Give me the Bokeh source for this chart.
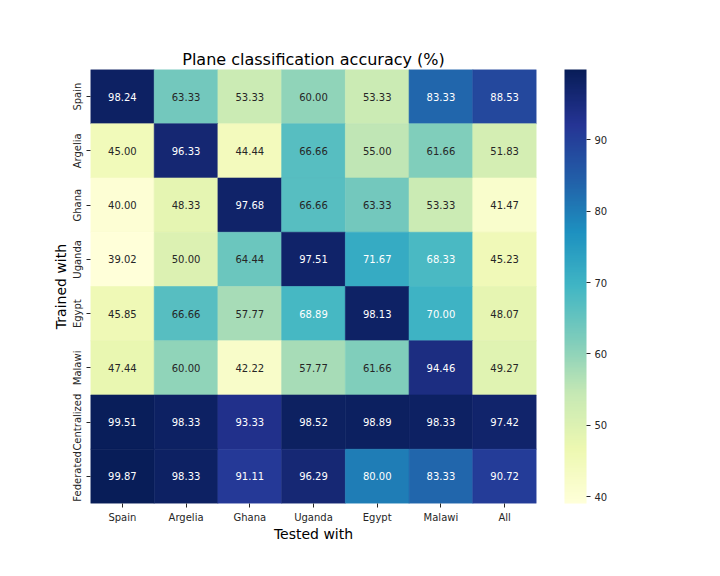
from bokeh.plotting import figure
from bokeh.models import ColumnDataSource, LinearColorMapper, ColorBar, FixedTicker, FactorRange
from bokeh.embed import file_html
from bokeh.resources import INLINE
from bokeh.core.properties import value

tested = ["Spain", "Argelia", "Ghana", "Uganda", "Egypt", "Malawi", "All"]
trained = ["Spain", "Argelia", "Ghana", "Uganda", "Egypt", "Malawi", "Centralized", "Federated"]

acc_spain = [98.24, 63.33, 53.33, 60.00, 53.33, 83.33, 88.53]
acc_argelia = [45.00, 96.33, 44.44, 66.66, 55.00, 61.66, 51.83]
acc_ghana = [40.00, 48.33, 97.68, 66.66, 63.33, 53.33, 41.47]
acc_uganda = [39.02, 50.00, 64.44, 97.51, 71.67, 68.33, 45.23]
acc_egypt = [45.85, 66.66, 57.77, 68.89, 98.13, 70.00, 48.07]
acc_malawi = [47.44, 60.00, 42.22, 57.77, 61.66, 94.46, 49.27]
acc_centralized = [99.51, 98.33, 93.33, 98.52, 98.89, 98.33, 97.42]
acc_federated = [99.87, 98.33, 91.11, 96.29, 80.00, 83.33, 90.72]

colorbar_ticks = [40, 50, 60, 70, 80, 90]

rows = [acc_spain, acc_argelia, acc_ghana, acc_uganda, acc_egypt, acc_malawi,
        acc_centralized, acc_federated]

# YlGnBu (ColorBrewer 9) interpolated to 256 steps, light -> dark
base = ['#ffffd9', '#edf8b1', '#c7e9b4', '#7fcdbb', '#41b6c4', '#1d91c0',
        '#225ea8', '#253494', '#081d58']


def hex2rgb(h):
    return tuple(int(h[i:i + 2], 16) for i in (1, 3, 5))


base_rgb = [hex2rgb(h) for h in base]
palette_rgb = []
N = 256
for i in range(N):
    t = i / (N - 1) * (len(base) - 1)
    k = min(int(t), len(base) - 2)
    f = t - k
    a, b = base_rgb[k], base_rgb[k + 1]
    palette_rgb.append(tuple(round(a[j] + (b[j] - a[j]) * f) for j in range(3)))
palette = ['#%02x%02x%02x' % c for c in palette_rgb]

all_vals = [v for r in rows for v in r]
vmin, vmax = min(all_vals), max(all_vals)


def lum(rgb):
    out = []
    for c in rgb:
        c = c / 255
        out.append(c / 12.92 if c <= 0.03928 else ((c + 0.055) / 1.055) ** 2.4)
    return 0.2126 * out[0] + 0.7152 * out[1] + 0.0722 * out[2]


xs, ys, vals, labels, tcolors = [], [], [], [], []
for name, r in zip(trained, rows):
    for col, v in zip(tested, r):
        xs.append(col)
        ys.append(name)
        vals.append(v)
        labels.append("%.2f" % v)
        idx = int(round((v - vmin) / (vmax - vmin) * (N - 1)))
        tcolors.append("#ffffff" if lum(palette_rgb[idx]) < 0.408 else "#262626")

src = ColumnDataSource(dict(x=xs, y=ys, v=vals, label=labels, tc=tcolors))
mapper = LinearColorMapper(palette=palette, low=vmin, high=vmax)

p = figure(width=704, height=560, output_backend="svg", toolbar_location=None,
           x_range=FactorRange(*tested), y_range=FactorRange(*list(reversed(trained))),
           min_border_left=90, min_border_right=168, min_border_top=69,
           min_border_bottom=57)

p.rect(x="x", y="y", width=1, height=1, source=src,
       fill_color={"field": "v", "transform": mapper},
       line_color={"field": "v", "transform": mapper}, line_width=0.6)
p.text(x="x", y="y", text="label", source=src, text_color="tc",
       text_align="center", text_baseline="middle", text_font_size="10px",
       text_font=value("DejaVu Sans"))

p.title.text = "Plane classification accuracy (%)"
p.title.align = "center"
p.title.text_font = "DejaVu Sans"
p.title.text_font_size = "16px"
p.title.text_font_style = "normal"
p.title.text_color = "#000000"
p.title.standoff = 2

p.xaxis.axis_label = "Tested with"
p.yaxis.axis_label = "Trained with"
for ax in (p.xaxis, p.yaxis):
    ax.axis_label_text_font = "DejaVu Sans"
    ax.axis_label_text_font_size = "14px"
    ax.axis_label_text_font_style = "normal"
    ax.axis_label_text_color = "#000000"
    ax.major_label_text_font = "DejaVu Sans"
    ax.major_label_text_font_size = "10px"
    ax.major_label_text_color = "#262626"
    ax.axis_line_color = None
    ax.major_tick_line_color = "#262626"
    ax.major_tick_out = 4
    ax.major_tick_in = 0
    ax.major_label_standoff = 4
    ax.axis_label_standoff = 0
p.yaxis.major_label_orientation = "vertical"

p.grid.grid_line_color = None
p.outline_line_color = None
p.background_fill_color = "#ffffff"

cb = ColorBar(color_mapper=mapper, width=22, height=434,
              ticker=FixedTicker(ticks=colorbar_ticks),
              major_label_text_font="DejaVu Sans", major_label_text_font_size="10px",
              major_label_text_color="#262626",
              major_tick_line_color="#262626", major_tick_out=4, major_tick_in=0,
              label_standoff=4, bar_line_color=None, border_line_color=None,
              background_fill_alpha=0, padding=0, margin=0, location=(28, 0))
p.add_layout(cb, "right")

open("out.html", "w").write(file_html(p, INLINE))
